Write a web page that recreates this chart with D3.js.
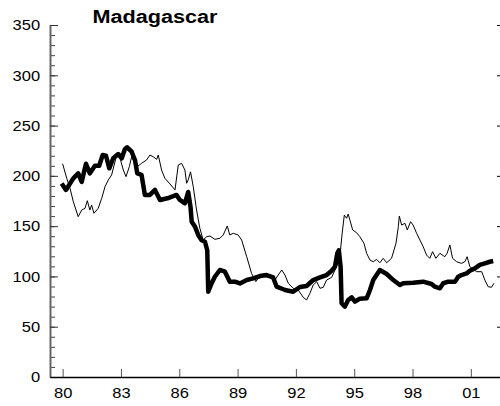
<!DOCTYPE html>
<html>
<head>
<meta charset="utf-8">
<script src="https://cdn.jsdelivr.net/npm/d3@7"></script>
<style>
    html, body { margin: 0; padding: 0; background: #fff; }
    svg { display: block; }
    text { font-family: "Liberation Sans", Arial, sans-serif; fill: #000; }
</style>
</head>
<body>
<div class="container"></div>
<script>
const title = 'Madagascar';

// x ticks (years since 1900) and their labels
const xTicks = [80, 83, 86, 89, 92, 95, 98, 101];
const xTickLabels = ['80', '83', '86', '89', '92', '95', '98', '01'];
const yTicks = [0, 50, 100, 150, 200, 250, 300, 350];
const yMinorTicks = d3.range(0, 351, 10);

// thick line
const boldYears = [79.95, 80.17, 80.55, 80.80, 80.98, 81.20, 81.40, 81.66, 81.88, 82.06,
    82.23, 82.40, 82.60, 82.86, 83.04, 83.20, 83.32, 83.55, 83.72, 83.84,
    84.06, 84.23, 84.49, 84.75, 85.01, 85.39, 85.86, 86.03, 86.29, 86.46,
    86.58, 86.64, 86.81, 86.98, 87.15, 87.32, 87.44, 87.49, 87.66, 87.83,
    88.09, 88.35, 88.60, 88.86, 89.12, 89.47, 89.80, 90.15, 90.49, 90.83,
    91.01, 91.44, 91.86, 92.21, 92.55, 92.89, 93.24, 93.58, 93.84, 94.01,
    94.13, 94.21, 94.30, 94.35, 94.52, 94.69, 94.87, 95.04, 95.29, 95.64,
    95.81, 95.98, 96.15, 96.32, 96.67, 97.01, 97.35, 97.52, 98.03, 98.55,
    98.98, 99.15, 99.41, 99.58, 99.84, 100.19, 100.35, 100.52, 100.78, 100.95,
    101.21, 101.46, 101.72, 101.98, 102.15];
const boldValues = [192.5, 186, 197.5, 202.5, 194, 212, 202.5, 210, 210, 220.7,
    220, 207.5, 217.5, 221.7, 217.5, 226.4, 228.4, 224, 215.8, 202.5,
    201, 181, 181, 186, 176, 177.7, 181, 176, 172.7, 184,
    169, 154.4, 149.5, 141, 136, 134.5, 126, 84.8, 93, 99.7,
    106.4, 104.7, 94.8, 94.8, 93, 96.4, 98, 100.4, 101.4, 99,
    89.8, 86.5, 84.8, 89.5, 90.5, 96.4, 99, 101.4, 105.7, 109.7,
    123, 126, 109.7, 73.3, 70, 76.6, 79.2, 74.9, 77.9, 78.2,
    86.5, 96.4, 101.4, 106.4, 102.4, 96.4, 91.5, 93.2, 93.8, 94.8,
    92.5, 89.8, 88.2, 93.2, 94.8, 94.8, 99.7, 101.4, 103, 105.7,
    108, 111.4, 113, 114.6, 115.3];

// thin line
const thinYears = [80.00, 80.21, 80.38, 80.55, 80.80, 80.98, 81.15, 81.27, 81.40, 81.49,
    81.61, 81.83, 82.01, 82.18, 82.35, 82.52, 82.74, 82.91, 83.12, 83.26,
    83.43, 83.55, 83.72, 83.84, 84.06, 84.32, 84.49, 84.66, 84.84, 84.92,
    85.09, 85.26, 85.52, 85.78, 85.95, 86.12, 86.29, 86.38, 86.46, 86.58,
    86.72, 86.89, 87.06, 87.23, 87.41, 87.58, 87.83, 88.09, 88.26, 88.47,
    88.60, 88.78, 89.03, 89.21, 89.47, 89.72, 89.94, 90.06, 90.32, 90.66,
    90.92, 91.09, 91.27, 91.44, 91.61, 91.86, 92.12, 92.38, 92.55, 92.72,
    92.89, 93.07, 93.24, 93.41, 93.58, 93.84, 94.09, 94.26, 94.38, 94.49,
    94.61, 94.69, 94.78, 94.92, 95.12, 95.29, 95.50, 95.64, 95.81, 95.98,
    96.15, 96.32, 96.49, 96.67, 96.92, 97.15, 97.27, 97.32, 97.44, 97.61,
    97.73, 97.90, 98.03, 98.21, 98.38, 98.55, 98.72, 98.89, 99.03, 99.20,
    99.41, 99.66, 99.78, 99.92, 100.06, 100.27, 100.52, 100.69, 100.81, 100.95,
    101.30, 101.56, 101.72, 101.89, 102.06, 102.19];
const thinValues = [212, 197.6, 187.6, 174.3, 159.4, 166, 167.7, 175.3, 166, 171,
    162.8, 167.7, 177.7, 189.2, 195.9, 200.9, 217.5, 220.7, 205.8, 199.2,
    209.1, 219, 212.5, 209, 212.5, 215.8, 220.7, 219, 216.4, 220.7,
    205.8, 197.6, 192, 186, 210.8, 212.5, 205.8, 192.6, 196, 204,
    189.2, 166, 147.9, 136.2, 139.5, 140.2, 136.9, 137.9, 141.2, 150.1,
    141.2, 142.9, 141.2, 136.2, 119.6, 103, 94.8, 98.2, 99.7, 99.7,
    96.4, 101.4, 106.4, 101.4, 93.2, 88.2, 86.5, 79.2, 76.6, 83.2,
    91.5, 94.8, 88.2, 89.2, 96.4, 99.1, 109.7, 119.6, 142.9, 161,
    157.8, 162, 156, 146.2, 143.5, 139.5, 133, 123, 116.3, 114.6,
    117, 113.6, 118, 113.6, 118, 133, 149.5, 160, 151.1, 152.8,
    146.2, 154.4, 151.1, 142.9, 136.2, 129.6, 121.3, 118, 124.6, 118,
    123, 119.6, 123, 131.3, 118, 114.6, 113, 114.6, 119.6, 109.7,
    104.7, 104.7, 96.4, 89.8, 89.2, 93.2];

const width = 500, height = 406;
const plot = { left: 50, right: 500, top: 25, bottom: 377 };

const svg = d3.select('.container').append('svg')
    .attr('width', width)
    .attr('height', height);

const x = d3.scaleLinear().domain([79.35, 102.5]).range([plot.left, plot.right]);
const y = d3.scaleLinear().domain([0, 350]).range([plot.bottom, plot.top]);

// left axis: minor ticks first, then major ticks with labels
svg.append('g')
    .attr('transform', `translate(${plot.left},0)`)
    .call(d3.axisLeft(y).tickValues(yMinorTicks).tickSizeInner(-5).tickSizeOuter(0).tickFormat(''))
    .call(g => g.select('.domain').remove())
    .call(g => g.selectAll('line').attr('stroke', '#444'));

svg.append('g')
    .attr('transform', `translate(${plot.left},0)`)
    .call(d3.axisLeft(y).tickValues(yTicks).tickSizeInner(-8).tickSizeOuter(0).tickPadding(9))
    .call(g => g.select('.domain').attr('stroke', '#666').attr('stroke-width', 2))
    .call(g => g.selectAll('line').attr('stroke', '#333'))
    .call(g => g.selectAll('text')
        .attr('font-size', 15)
        .attr('transform', 'scale(1.1,1)'));

// right side: short inward ticks only
svg.append('g')
    .attr('transform', `translate(${plot.right},0)`)
    .call(d3.axisRight(y).tickValues(yTicks.slice(1)).tickSizeInner(-3).tickSizeOuter(0).tickFormat(''))
    .call(g => g.select('.domain').remove())
    .call(g => g.selectAll('line').attr('stroke', '#000'));

// bottom axis
svg.append('g')
    .attr('transform', `translate(0,${plot.bottom})`)
    .call(d3.axisBottom(x).tickValues(xTicks).tickSizeInner(-8).tickSizeOuter(0).tickPadding(10)
        .tickFormat((d, i) => xTickLabels[i]))
    .call(g => g.select('.domain').attr('stroke', '#000').attr('stroke-width', 1.5))
    .call(g => g.selectAll('line').attr('stroke', '#555'))
    .call(g => g.selectAll('text')
        .attr('font-size', 15)
        .attr('transform', 'scale(1.1,1)'));

const line = d3.line()
    .x(d => x(d[0]))
    .y(d => y(d[1]));

svg.append('path')
    .datum(d3.zip(thinYears, thinValues))
    .attr('fill', 'none')
    .attr('stroke', '#000')
    .attr('stroke-width', 1)
    .attr('stroke-linejoin', 'round')
    .attr('d', line);

svg.append('path')
    .datum(d3.zip(boldYears, boldValues))
    .attr('fill', 'none')
    .attr('stroke', '#000')
    .attr('stroke-width', 4.5)
    .attr('stroke-linejoin', 'round')
    .attr('d', line);

svg.append('text')
    .attr('transform', 'translate(155,23) scale(1.17,1)')
    .attr('text-anchor', 'middle')
    .attr('font-size', 18.5)
    .attr('font-weight', 'bold')
    .text(title);
</script>
</body>
</html>
